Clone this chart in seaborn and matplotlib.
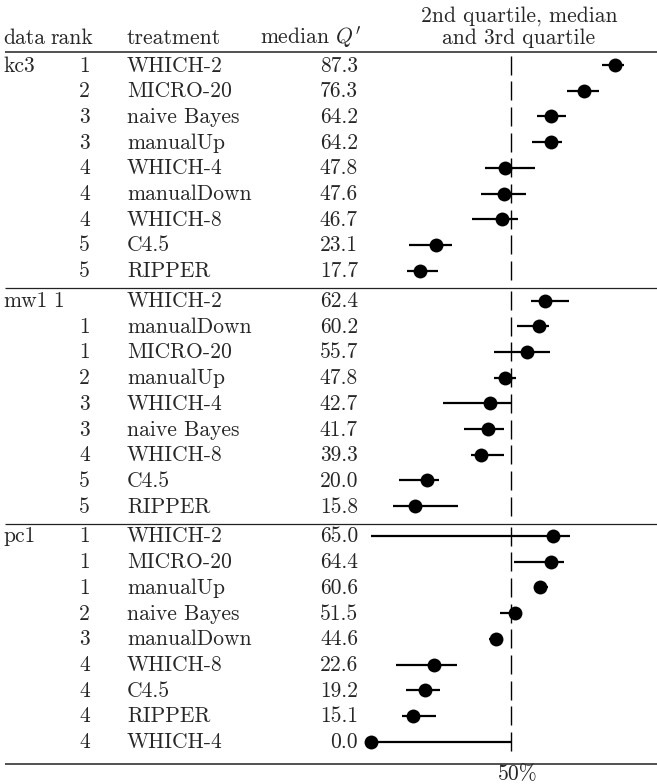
import matplotlib
matplotlib.use('Agg')
import matplotlib.pyplot as plt
import matplotlib.transforms as mtransforms
import pandas as pd
import seaborn as sns

# data (median and 2nd/3rd quartile, in %)
datasets = ['kc3', 'mw1', 'pc1']

kc3_treatment = ['WHICH-2', 'MICRO-20', 'naive Bayes', 'manualUp', 'WHICH-4',
                 'manualDown', 'WHICH-8', 'C4.5', 'RIPPER']
kc3_rank = [1, 2, 3, 3, 4, 4, 4, 5, 5]
kc3_median = [87.3, 76.3, 64.2, 64.2, 47.8, 47.6, 46.7, 23.1, 17.7]
kc3_q1 = [82.5, 70.0, 59.2, 57.5, 40.6, 39.5, 36.2, 13.6, 13.0]
kc3_q3 = [90.6, 81.5, 69.6, 68.2, 58.6, 55.6, 52.6, 28.9, 23.9]

mw1_treatment = ['WHICH-2', 'manualDown', 'MICRO-20', 'manualUp', 'WHICH-4',
                 'naive Bayes', 'WHICH-8', 'C4.5', 'RIPPER']
mw1_rank = [1, 1, 1, 2, 3, 3, 4, 5, 5]
mw1_median = [62.4, 60.2, 55.7, 47.8, 42.7, 41.7, 39.3, 20.0, 15.8]
mw1_q1 = [57.4, 52.2, 44.1, 44.0, 25.8, 33.1, 35.6, 10.0, 7.9]
mw1_q3 = [70.9, 63.8, 64.1, 51.9, 50.0, 47.7, 47.7, 24.3, 31.2]

pc1_treatment = ['WHICH-2', 'MICRO-20', 'manualUp', 'naive Bayes', 'manualDown',
                 'WHICH-8', 'C4.5', 'RIPPER', 'WHICH-4']
pc1_rank = [1, 1, 1, 2, 3, 4, 4, 4, 4]
pc1_median = [65.0, 64.4, 60.6, 51.5, 44.6, 22.6, 19.2, 15.1, 0.0]
pc1_q1 = [0.0, 51.0, 59.5, 46.1, 42.1, 9.1, 12.4, 11.0, 0.0]
pc1_q3 = [71.1, 68.9, 63.4, 52.3, 45.7, 30.7, 24.8, 23.3, 50.0]

tables = {
    'kc3': (kc3_treatment, kc3_rank, kc3_median, kc3_q1, kc3_q3),
    'mw1': (mw1_treatment, mw1_rank, mw1_median, mw1_q1, mw1_q3),
    'pc1': (pc1_treatment, pc1_rank, pc1_median, pc1_q1, pc1_q3),
}

# layout (pixels of the 657x784 figure)
W, H = 657, 784
ROW0, ROW_STEP, SECTION_STEP = 65, 25.7, 235.5
RULES = [52, 288, 524, 764]
X0, X100 = 371, 650.6   # pixel x of 0% and 100%

rows = []
for s, name in enumerate(datasets):
    treat, rank, med, q1, q3 = tables[name]
    for i in range(len(treat)):
        rows.append(dict(data=name, first=(i == 0), rank=rank[i], treatment=treat[i],
                         median=med[i], q1=q1[i], q3=q3[i],
                         ypos=ROW0 + s * SECTION_STEP + i * ROW_STEP))
df = pd.DataFrame(rows)

sns.set_style('white')
plt.rcParams['font.family'] = ['cmr10', 'DejaVu Serif']
plt.rcParams['mathtext.fontset'] = 'cm'
plt.rcParams['axes.unicode_minus'] = False
plt.rcParams['axes.formatter.use_mathtext'] = True

fig = plt.figure(figsize=(W / 100, H / 100), dpi=100)
ax = fig.add_axes([0, 0, 1, 1])
ax.set_xlim(-X0 / (X100 - X0) * 100, (W - X0) / (X100 - X0) * 100)
ax.set_ylim(H, 0)
ax.axis('off')

# table columns: x in figure pixels, y in data (pixels)
tr = mtransforms.blended_transform_factory(
    mtransforms.Affine2D().scale(1 / W, 1) + fig.transFigure, ax.transData)
fs = 15.5

# rules
for y in RULES:
    ax.plot([5, W], [y, y], transform=tr, color='#222222',
            lw=1.1 if y in (52, 764) else 0.9, solid_capstyle='butt')

# header
ax.text(3, 44, 'data', transform=tr, fontsize=fs, va='baseline')
ax.text(50, 44, 'rank', transform=tr, fontsize=fs, va='baseline')
ax.text(127, 44, 'treatment', transform=tr, fontsize=fs, va='baseline')
ax.text(361, 44, r"median $Q'$", transform=tr, fontsize=fs, va='baseline', ha='right')
ax.text(519, 22, '2nd quartile, median', transform=tr, fontsize=fs, va='baseline', ha='center')
ax.text(519, 44, 'and 3rd quartile', transform=tr, fontsize=fs, va='baseline', ha='center')

# body text
for r in df.itertuples():
    yb = r.ypos + 6.5
    if r.first:
        ax.text(3, yb, r.data, transform=tr, fontsize=fs, va='baseline')
    rx = 53 if (r.first and r.data == 'mw1') else 79
    ax.text(rx, yb, str(r.rank), transform=tr, fontsize=fs, va='baseline')
    ax.text(127, yb, r.treatment, transform=tr, fontsize=fs, va='baseline')
    ax.text(358, yb, f'{r.median:.1f}', transform=tr, fontsize=fs, va='baseline', ha='right')

# 50% reference, dashed row by row
ax.vlines([50] * len(df), df['ypos'] - 9.5, df['ypos'] + 9.5, color='black', lw=1.0)
ax.text(518, 780, '50%', transform=tr, fontsize=fs, va='baseline', ha='center')

# quartile ranges and medians
ax.hlines(df['ypos'], df['q1'], df['q3'], color='black', lw=1.6, zorder=2)
sns.scatterplot(data=df, x='median', y='ypos', color='black', s=100,
                linewidth=0, legend=False, ax=ax, zorder=3)
ax.set_xlabel('')
ax.set_ylabel('')

fig.savefig('out.png', dpi=100)
